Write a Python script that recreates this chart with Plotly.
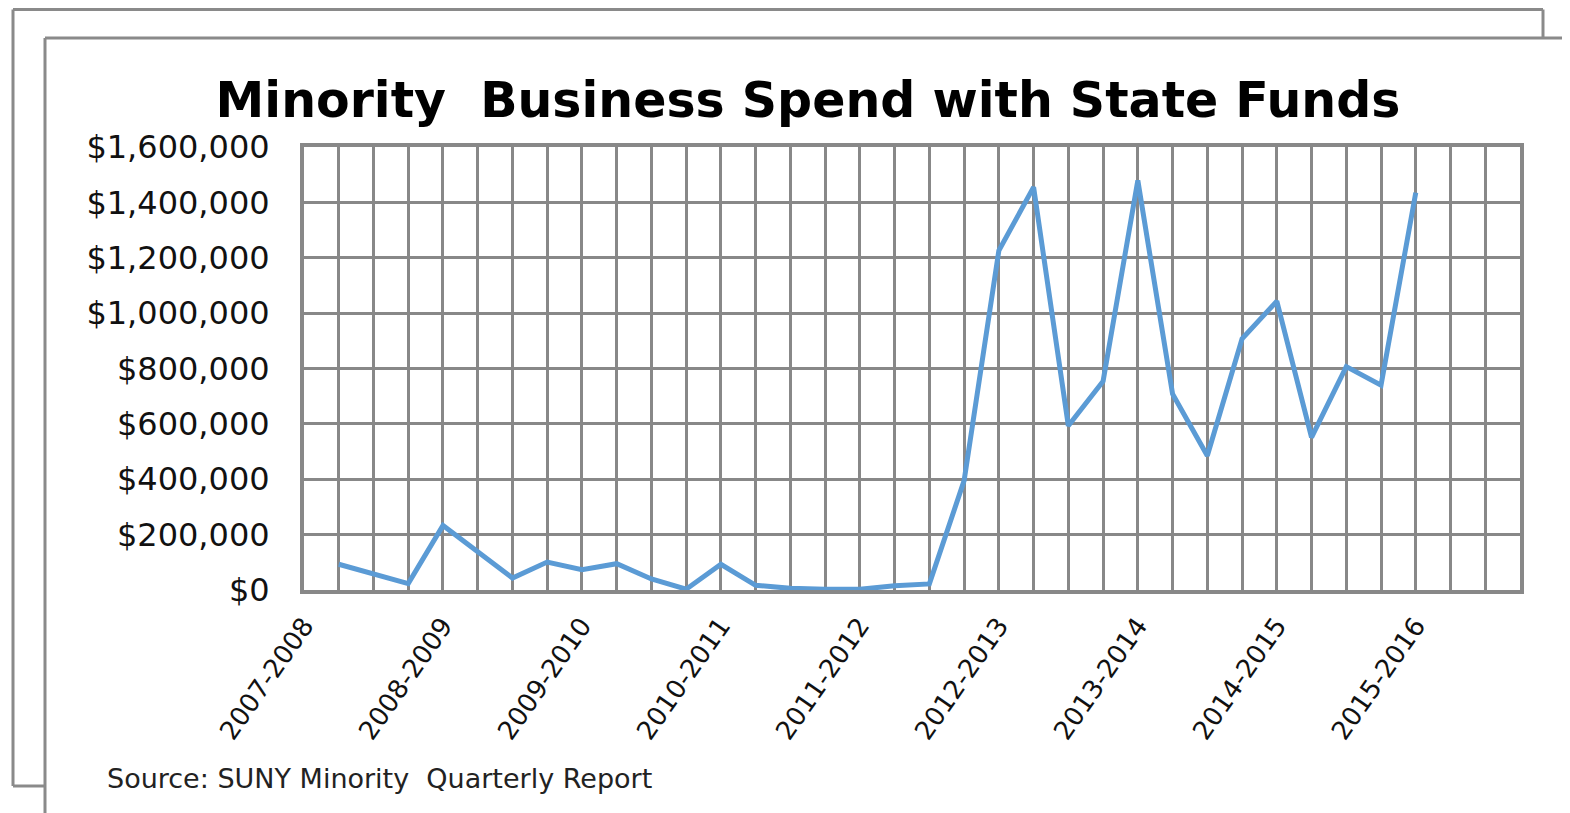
import plotly.graph_objects as go

# ---- data ----
fiscal_years = ["2007-2008", "2008-2009", "2009-2010", "2010-2011", "2011-2012",
                "2012-2013", "2013-2014", "2014-2015", "2015-2016"]
year_tick_index = [0, 4, 8, 12, 16, 20, 24, 28, 32]
quarter_index = list(range(1, 33))
spend = [93000, 58000, 23000, 233000, 138000, 43000, 101000, 73000,
         95000, 40000, 3000, 93000, 17000, 6000, 3000, 3000,
         15000, 22000, 395000, 1226000, 1455000, 593000, 754000, 1479000,
         708000, 485000, 907000, 1043000, 551000, 807000, 740000, 1435000]

OFF = 8  # default body margin of the html page
W, H = 1570 - OFF, 813 - OFF
L, R, T, B = 304 - OFF, 1520 - OFF, 147 - OFF, 590 - OFF

def px(x):
    return (x - OFF - L) / (R - L)

def py(y):
    return (B - (y - OFF)) / (B - T)

GRID = "#888888"

fig = go.Figure()
fig.add_trace(go.Scatter(
    x=quarter_index, y=spend, mode="lines",
    line=dict(color="#5B9BD5", width=5),
    showlegend=False, hoverinfo="skip"))

frame = [
    (13, 9.5, 1543, 9.5), (1543, 9.5, 1543, 38), (13, 9.5, 13, 786), (13, 786, 45, 786),
    (45, 38, 1575, 38), (45, 38, 45, 820),
]
shapes = [dict(type="line", xref="paper", yref="paper",
               x0=px(a), y0=py(b), x1=px(c), y1=py(d),
               line=dict(color="#8a8a8a", width=3), layer="below")
          for a, b, c, d in frame]

fig.update_layout(
    width=W, height=H,
    margin=dict(l=L, r=W - R, t=T, b=H - B, pad=0),
    paper_bgcolor="white", plot_bgcolor="white",
    title=dict(text="<b>Minority  Business Spend with State Funds</b>",
               x=(808 - OFF) / W, y=1 - (100 - OFF) / H, xref="container", yref="container",
               xanchor="center", yanchor="middle",
               font=dict(family="DejaVu Sans", size=49, color="#000000")),
    shapes=shapes,
    annotations=[dict(text="Source: SUNY Minority  Quarterly Report",
                      xref="paper", yref="paper", x=px(105), y=py(778),
                      xanchor="left", yanchor="middle", showarrow=False,
                      font=dict(family="DejaVu Sans", size=27, color="#222222"))],
)

fig.update_xaxes(
    range=[0, 35], tickmode="array", tickvals=year_tick_index, ticktext=fiscal_years,
    tickangle=-55, ticks="", showgrid=True, gridcolor=GRID, gridwidth=3,
    minor=dict(dtick=1, tick0=0, showgrid=True, gridcolor=GRID, gridwidth=3, ticks=""),
    showline=True, linecolor=GRID, linewidth=4, mirror=True, zeroline=False,
    tickfont=dict(family="DejaVu Sans", size=26, color="#111111"),
    ticklabelstandoff=6,
)
fig.update_yaxes(
    range=[0, 1600000], dtick=200000, tick0=0, tickprefix="$", tickformat=",d",
    ticks="", showgrid=True, gridcolor=GRID, gridwidth=3,
    showline=True, linecolor=GRID, linewidth=4, mirror=True, zeroline=False,
    tickfont=dict(family="DejaVu Sans", size=32, color="#111111"),
    ticklabelstandoff=24,
)

fig.write_html("out.html")
